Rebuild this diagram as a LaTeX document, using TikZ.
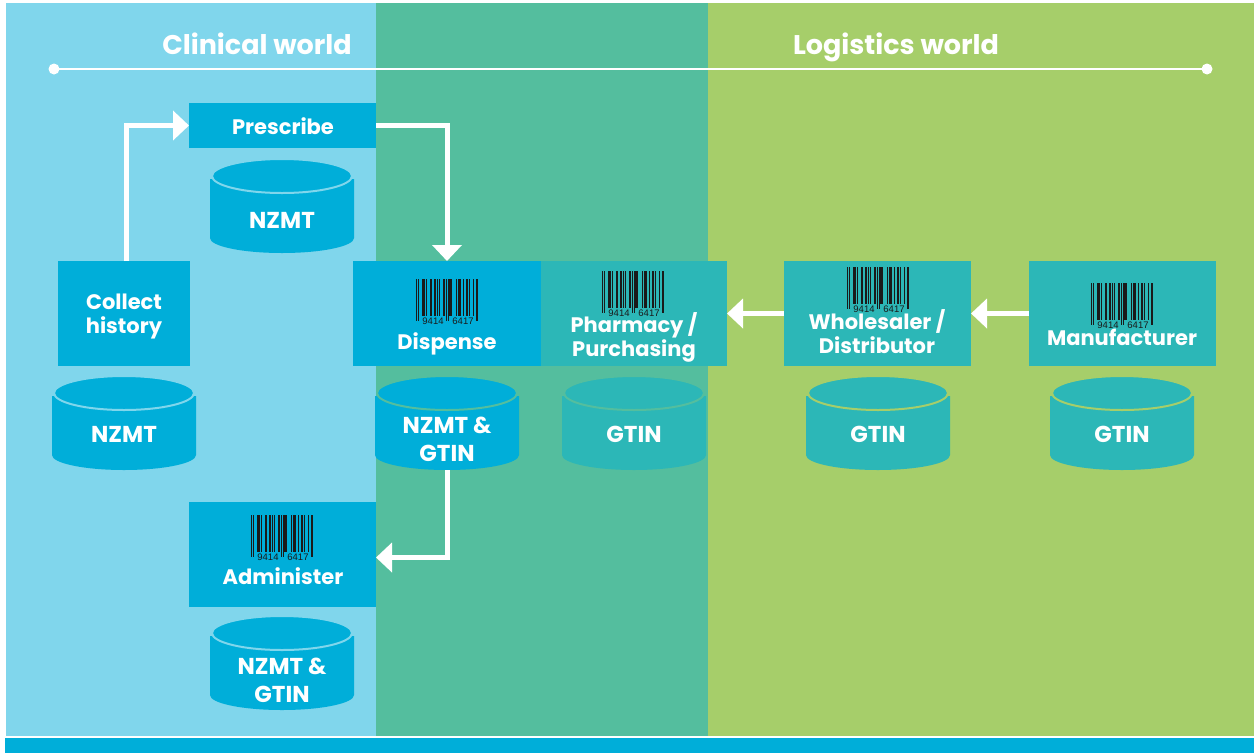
\documentclass[tikz,border=0pt]{standalone}
\usepackage{fontspec}
\setmainfont{Poppins}
\newfontfamily\digitfont{Liberation Sans}
\usetikzlibrary{arrows.meta}
\definecolor{bgblue}{HTML}{80D6EC}
\definecolor{bgteal}{HTML}{54BE9E}
\definecolor{bglime}{HTML}{A6CE6A}
\definecolor{boxblue}{HTML}{00AED9}
\definecolor{boxteal}{HTML}{2CB7B7}
\definecolor{bardark}{HTML}{1A1A1A}
\tikzset{
  boxnode/.style={inner sep=0pt, outer sep=0pt, anchor=north west},
  lbl/.style={text=white, font=\bfseries\fontsize{21}{25}\selectfont, inner sep=0pt, anchor=base},
  cyllbl/.style={text=white, font=\bfseries\fontsize{23}{27}\selectfont, inner sep=0pt, anchor=base},
  titlelbl/.style={text=white, font=\bfseries\fontsize{27}{32}\selectfont, inner sep=0pt, anchor=base},
  flow/.style={draw=white, line width=5pt, -{Triangle[length=16pt,width=29pt]}},
  barcode/.pic={
    \foreach \i in {6,8,9,11,15,16,19,20,23,25,29,30,36,38,43,45,46,47,50,51,54,55,57,61}
      \fill[bardark] (\i*0.93,0) rectangle ++(1.05,37);
    \foreach \i in {0,2,32,34,64,66}
      \fill[bardark] (\i*0.93,0) rectangle ++(1.05,42);
    \node[font=\digitfont\fontsize{9.5}{10}\selectfont, text=bardark, inner sep=0pt, anchor=base] at (17,45) {9414};
    \node[font=\digitfont\fontsize{9.5}{10}\selectfont, text=bardark, inner sep=0pt, anchor=base] at (47,45) {6417};
  }
}
% cylinder: name, cx, top y, fill, outline
\newcommand\mycyl[5]{%
  \fill[#4] (#2-72,#3+22) -- (#2-72,#3+81) arc[start angle=180,end angle=0,x radius=72,y radius=15] -- (#2+72,#3+22) -- cycle;
  \filldraw[fill=#4, draw=#5, line width=2pt] (#2,#3+19) ellipse[x radius=70, y radius=17];
  \node[minimum width=144pt, minimum height=96pt, inner sep=0pt, outer sep=0pt] (#1) at (#2,#3+48) {};
}
\begin{document}
\begin{tikzpicture}[x=1pt,y=-1pt]
\useasboundingbox (0,0) rectangle (1254,753);
% backgrounds
\fill[bgblue] (6,3) rectangle (376,736);
\fill[bgteal] (376,3) rectangle (708,736);
\fill[bglime] (708,3) rectangle (1254,736);
\fill[boxblue] (5,738) rectangle (1254,753);
% header
\node[titlelbl] (tclin) at (257,54) {Clinical world};
\node[titlelbl] (tlog) at (896,54) {Logistics world};
\coordinate (ld) at (54,69);
\coordinate (rd) at (1207,69);
\draw[white, line width=2pt] (ld) -- (rd);
\fill[white] (ld) circle[radius=5.5];
\fill[white] (rd) circle[radius=5.5];
% boxes
\node[boxnode, fill=boxblue, minimum width=187pt, minimum height=45pt] (prescribe) at (189,103) {};
\node[boxnode, fill=boxblue, minimum width=132pt, minimum height=105pt] (collect) at (58,261) {};
\node[boxnode, fill=boxblue, minimum width=188pt, minimum height=105pt] (dispense) at (353,261) {};
\node[boxnode, fill=boxteal, minimum width=186pt, minimum height=105pt] (pharmacy) at (541,261) {};
\node[boxnode, fill=boxteal, minimum width=187pt, minimum height=105pt] (wholesaler) at (784,261) {};
\node[boxnode, fill=boxteal, minimum width=187pt, minimum height=105pt] (manufacturer) at (1029,261) {};
\node[boxnode, fill=boxblue, minimum width=187pt, minimum height=105pt] (administer) at (189,502) {};
% cylinders
\mycyl{pcyl}{282}{157}{boxblue}{bgblue}
\mycyl{ccyl}{124}{374}{boxblue}{bgblue}
\mycyl{dcyl}{447}{374}{boxblue}{bgteal}
\mycyl{phcyl}{634}{374}{boxteal}{bgteal}
\mycyl{wcyl}{878}{374}{boxteal}{bglime}
\mycyl{mcyl}{1122}{374}{boxteal}{bglime}
\mycyl{acyl}{282}{614}{boxblue}{bgblue}
% barcodes
\pic at (416,279) {barcode};
\pic at (602,271) {barcode};
\pic at (847,267) {barcode};
\pic at (1091,283) {barcode};
\pic at (251,515) {barcode};
% connectors
\draw[flow] ([xshift=2pt]collect.north) |- (prescribe.west);
\draw[flow] (prescribe.east) -| (dispense.north);
\draw[flow] (dcyl.south) |- ([yshift=-3pt]administer.east);
\draw[flow] (manufacturer.west) -- (wholesaler.east);
\draw[flow] (wholesaler.west) -- (pharmacy.east);
% box labels
\node[lbl] (lpres) at (283,134) {Prescribe};
\node[lbl] (lcol1) at (124,309) {Collect};
\node[lbl] (lcol2) at (124,333) {history};
\node[lbl] (ldisp) at (447,349) {Dispense};
\node[lbl] (lph1) at (634,332) {Pharmacy /};
\node[lbl] (lph2) at (634,356) {Purchasing};
\node[lbl] (lwh1) at (877,329) {Wholesaler /};
\node[lbl] (lwh2) at (877,353) {Distributor};
\node[lbl] (lman) at (1122,345) {Manufacturer};
\node[lbl] (ladm) at (283,584) {Administer};
% cylinder labels
\node[cyllbl] (tp) at (282,228) {NZMT};
\node[cyllbl] (tc) at (124,442) {NZMT};
\node[cyllbl] (td1) at (447,433) {NZMT \&};
\node[cyllbl] (td2) at (447,461) {GTIN};
\node[cyllbl] (tph) at (634,442) {GTIN};
\node[cyllbl] (tw) at (878,442) {GTIN};
\node[cyllbl] (tm) at (1122,442) {GTIN};
\node[cyllbl] (ta1) at (282,674) {NZMT \&};
\node[cyllbl] (ta2) at (282,702) {GTIN};
\end{tikzpicture}
\end{document}
